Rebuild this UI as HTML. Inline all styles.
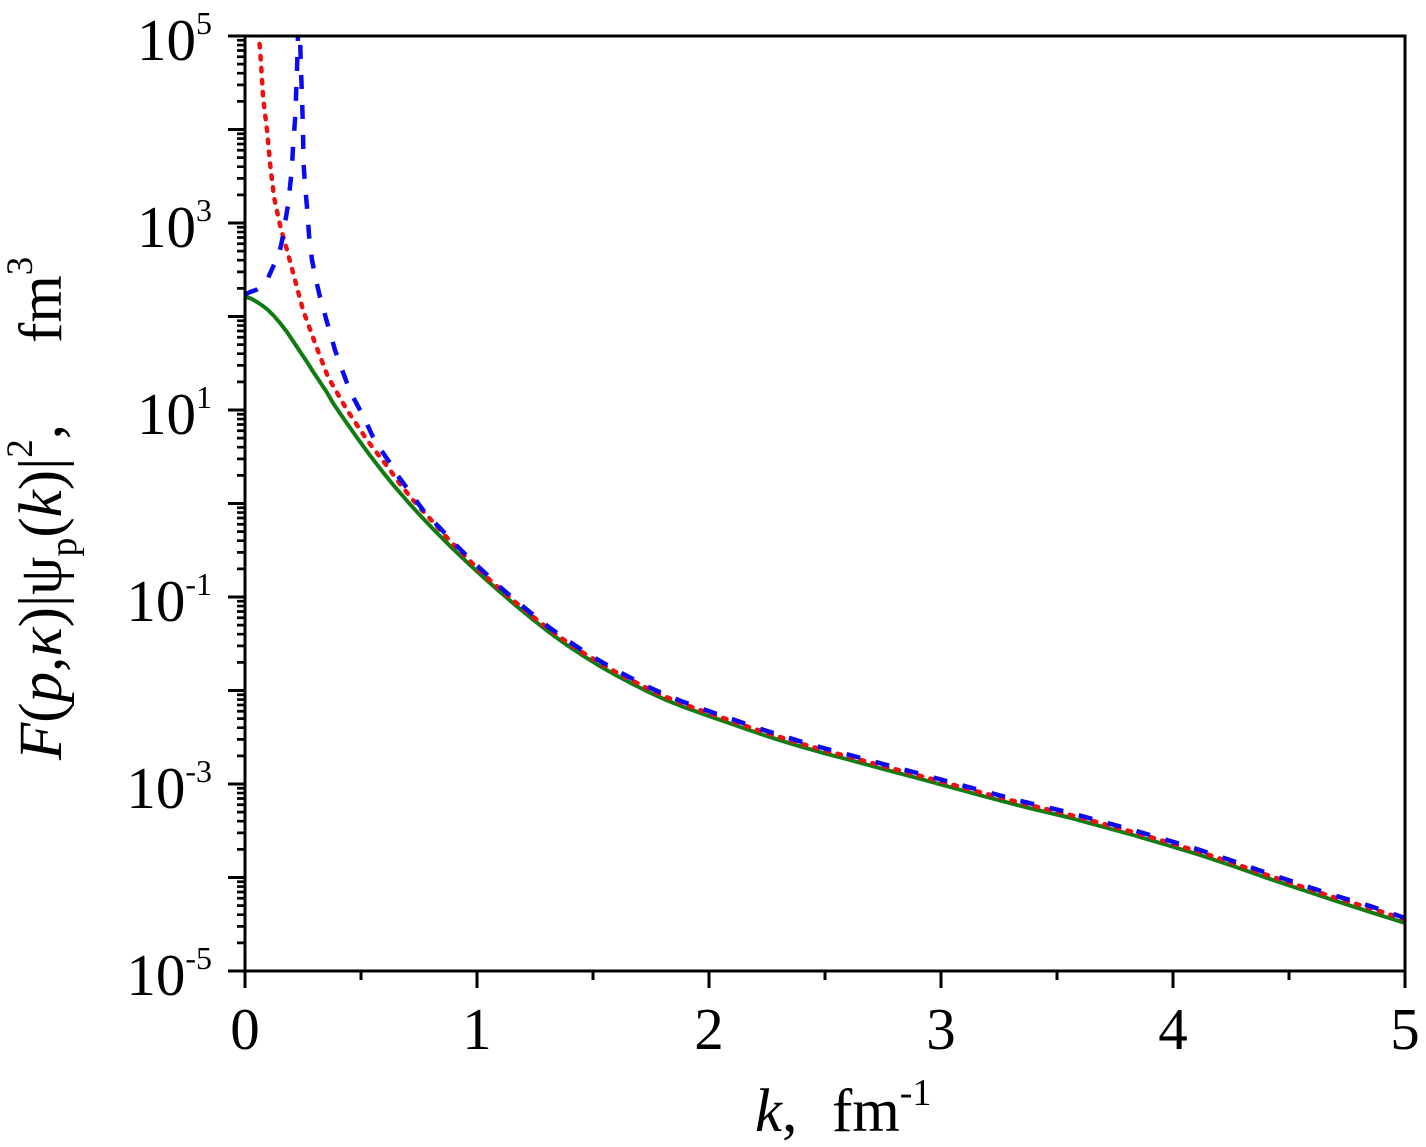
<!DOCTYPE html>
<html>
<head>
<meta charset="utf-8">
<style>
  html, body { margin: 0; padding: 0; background: #ffffff; }
  svg { display: block; }
  text { font-family: "Liberation Serif", "DejaVu Serif", serif; fill: #000; }
</style>
</head>
<body>
<svg width="1426" height="1147" viewBox="0 0 1426 1147" xmlns="http://www.w3.org/2000/svg">
  <defs>
    <clipPath id="plot">
      <rect x="245" y="36" width="1160" height="935"/>
    </clipPath>
  </defs>

  <rect x="0" y="0" width="1426" height="1147" fill="#ffffff"/>

  <g clip-path="url(#plot)" fill="none" stroke-linejoin="round">
    <!-- green solid -->
    <polyline stroke="#117d11" stroke-width="4" points="245,297 251,298.5 257,302 263,306 268,310 274,316 280,323 287,332 293,341 300,351.5 307,362 313,371.5 320,382 327,392.5 333,403 345,420.6 357,437.6 370,455.4 383,472.3 395,487 408,502 420,515.2 433,528.9 450,545.9 467,562.2 483,576.9 500,591.9 517,606.5 533,619.6 550,632.9 567,645.1 583,655.7 600,666.2 617,675.7 633,684.2 650,692.7 667,700.4 683,706.8 700,712.9 717,718.8 733,724.4 750,730.4 767,736.1 783,741.2 800,746.3 825,753.5 850,760 883,769 917,778 950,787 983,796 1025,807 1067,817 1100,826 1133,835 1167,845 1200,855 1233,866 1267,878 1300,889 1333,900 1370,912 1405,923 1410,925"/>
    <!-- red dotted -->
    <polyline stroke="#ee1111" stroke-width="4.5" stroke-linecap="round" stroke-dasharray="3.5 8.5" points="258.5,20 259,36 261,63 263,97 267,130 270,163 274,197 277,211 280,225 283,236 287,250 295,280 303,310 315,343 328,377 347,410 367,440 390,470 400,484 413,500 433,522 450,541 467,558 483,574 500,589 517,603.5 533,616.6 550,630 567,642 583,652.7 600,663 617,672.7 633,681 650,689.7 667,697.4 683,703.8 700,710 717,716 733,721.4 750,727.4 767,733 783,738 800,743.3 825,750.5 850,757 883,766 917,775 950,784 983,793 1025,804 1067,814 1100,823 1133,832 1167,842 1200,852 1233,863 1267,875 1300,886 1333,897 1370,908 1405,919.5 1410,921"/>
    <!-- blue dashed, left branch -->
    <polyline stroke="#0a0af0" stroke-width="4.5" stroke-dasharray="14 16" points="245,295 250,292 256,290 262,286 268,278 273,267 277,258 280,250 283,236 285,223 288,205 290,187 292,167 293,147 295,120 296,97 297,70 298,36 298.5,15"/>
    <!-- blue dashed, right branch -->
    <polyline stroke="#0a0af0" stroke-width="4.5" stroke-dasharray="14 16" points="299.5,15 300,36 301,70 302,97 303,130 303.5,163 305,185 307,207 309,235 312,260 316,280 320,297 327,322 335,350 341,367 347,383 353,397 360,410 367,424 373,437 381,450 390,463 398,476 407,488 415,499 423,510 432,520 440,528 455,544 470,559 483,571 500,587 517,601.5 533,614.6 550,628 567,640 583,650.7 600,661 617,670.7 633,679 650,687.7 667,695.4 683,701.8 700,708 717,714 733,719.4 750,725.4 767,731 783,736 800,741.3 825,748.5 850,755 883,764 917,773 950,782 983,791 1025,802 1067,812 1100,821 1133,830 1167,840 1200,850 1233,861 1267,873 1300,884 1333,895 1370,906 1405,918 1410,919"/>
  </g>

  <!-- frame -->
  <rect x="245" y="36" width="1160" height="935" fill="none" stroke="#000" stroke-width="3"/>

  <!-- y major ticks -->
  <path stroke="#000" stroke-width="3" fill="none" d="
    M228 971 H245 M228 877.5 H245 M228 784 H245 M228 690.5 H245 M228 597 H245
    M228 503.5 H245 M228 410 H245 M228 316.5 H245 M228 223 H245 M228 129.5 H245 M228 36 H245"/>
  <!-- y minor ticks -->
  <path stroke="#000" stroke-width="2.7" fill="none" d="
    M237 942.85 H245 M237 926.39 H245 M237 914.71 H245 M237 905.65 H245 M237 898.24 H245 M237 891.98 H245 M237 886.56 H245 M237 881.78 H245
    M237 849.35 H245 M237 832.89 H245 M237 821.21 H245 M237 812.15 H245 M237 804.74 H245 M237 798.48 H245 M237 793.06 H245 M237 788.28 H245
    M237 755.85 H245 M237 739.39 H245 M237 727.71 H245 M237 718.65 H245 M237 711.24 H245 M237 704.98 H245 M237 699.56 H245 M237 694.78 H245
    M237 662.35 H245 M237 645.89 H245 M237 634.21 H245 M237 625.15 H245 M237 617.74 H245 M237 611.48 H245 M237 606.06 H245 M237 601.28 H245
    M237 568.85 H245 M237 552.39 H245 M237 540.71 H245 M237 531.65 H245 M237 524.24 H245 M237 517.98 H245 M237 512.56 H245 M237 507.78 H245
    M237 475.35 H245 M237 458.89 H245 M237 447.21 H245 M237 438.15 H245 M237 430.74 H245 M237 424.48 H245 M237 419.06 H245 M237 414.28 H245
    M237 381.85 H245 M237 365.39 H245 M237 353.71 H245 M237 344.65 H245 M237 337.24 H245 M237 330.98 H245 M237 325.56 H245 M237 320.78 H245
    M237 288.35 H245 M237 271.89 H245 M237 260.21 H245 M237 251.15 H245 M237 243.74 H245 M237 237.48 H245 M237 232.06 H245 M237 227.28 H245
    M237 194.85 H245 M237 178.39 H245 M237 166.71 H245 M237 157.65 H245 M237 150.24 H245 M237 143.98 H245 M237 138.56 H245 M237 133.78 H245
    M237 101.35 H245 M237 84.89 H245 M237 73.21 H245 M237 64.15 H245 M237 56.74 H245 M237 50.48 H245 M237 45.06 H245 M237 40.28 H245"/>

  <!-- x ticks -->
  <path stroke="#000" stroke-width="3" fill="none" d="
    M245 971 V988 M477 971 V988 M709 971 V988 M941 971 V988 M1173 971 V988 M1405 971 V988
    M361 971 V980 M593 971 V980 M825 971 V980 M1057 971 V980 M1289 971 V980"/>

  <!-- y tick labels -->
  <g font-size="59" text-anchor="end">
    <text x="212" y="60">10<tspan dy="-26" font-size="32">5</tspan></text>
    <text x="212" y="247">10<tspan dy="-26" font-size="32">3</tspan></text>
    <text x="212" y="434">10<tspan dy="-26" font-size="32">1</tspan></text>
    <text x="212" y="621">10<tspan dy="-26" font-size="32">-1</tspan></text>
    <text x="212" y="808">10<tspan dy="-26" font-size="32">-3</tspan></text>
    <text x="212" y="995">10<tspan dy="-26" font-size="32">-5</tspan></text>
  </g>

  <!-- x tick labels -->
  <g font-size="59" text-anchor="middle">
    <text x="245" y="1049">0</text>
    <text x="477" y="1049">1</text>
    <text x="709" y="1049">2</text>
    <text x="941" y="1049">3</text>
    <text x="1173" y="1049">4</text>
    <text x="1405" y="1049">5</text>
  </g>

  <!-- x axis label -->
  <text x="755" y="1131" font-size="61"><tspan font-style="italic">k</tspan>,</text>
  <text x="832" y="1131" font-size="61">fm<tspan dy="-26" font-size="38">-1</tspan></text>

  <!-- y axis label -->
  <text transform="translate(61,760) rotate(-90)" font-size="61"><tspan font-style="italic">F</tspan>(<tspan font-style="italic">p</tspan>,<tspan font-style="italic">κ</tspan>)|ψ<tspan dy="15" font-size="38">p</tspan><tspan dy="-15">(</tspan><tspan font-style="italic">k</tspan>)|<tspan dy="-29" font-size="37">2</tspan><tspan dy="29">,</tspan></text>
  <text transform="translate(61,343) rotate(-90)" font-size="61">fm<tspan dy="-29" font-size="37">3</tspan></text>
</svg>
</body>
</html>
